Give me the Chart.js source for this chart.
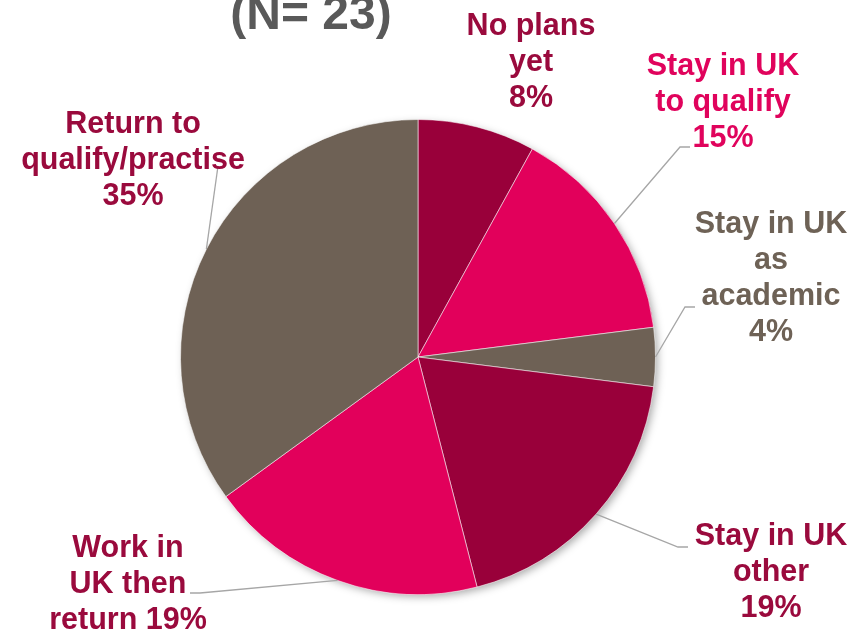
<!DOCTYPE html>
<html>
<head>
<meta charset="utf-8">
<script src="https://cdn.jsdelivr.net/npm/chart.js@4.4.1/dist/chart.umd.min.js"></script>
<style>
  html, body { margin: 0; padding: 0; background: #fff; }
  #wrap { width: 865px; height: 632px; }
</style>
</head>
<body>
<div id="wrap"><canvas id="plans" width="865" height="632"></canvas></div>
<script>
const title = '(N= 23)';
const categories = [
  'No plans yet',
  'Stay in UK to qualify',
  'Stay in UK as academic',
  'Stay in UK other',
  'Work in UK then return',
  'Return to qualify/practise'
];
const shares = [8, 15, 4, 19, 19, 35];
const sliceColors = ['#99003a', '#e2005b', '#6e6155', '#99003a', '#e2005b', '#6e6155'];
const labelColors = ['#9a0a3d', '#e0035c', '#6e6256', '#9a0a3d', '#9a0a3d', '#9a0a3d'];
// label text split into lines; {p} becomes the share
const labelLines = [
  ['No plans', 'yet', '{p}'],
  ['Stay in UK', 'to qualify', '{p}'],
  ['Stay in UK', 'as', 'academic', '{p}'],
  ['Stay in UK', 'other', '{p}'],
  ['Work in', 'UK then', 'return {p}'],
  ['Return to', 'qualify/practise', '{p}']
];

// label block placement: centre x, first baseline, and the bend points of the leader line
const labelSpots = [
  { x: 531, y: 35, bend: null },
  { x: 723, y: 75, bend: [[680, 147], [690, 147]] },
  { x: 771, y: 233, bend: [[685, 307], [695, 307]] },
  { x: 771, y: 545, bend: [[678, 547], [688, 547]] },
  { x: 128, y: 557, bend: [[200, 593], [190, 593]] },
  { x: 133, y: 133, bend: [[218, 166]] }
];

const LINE_GAP = 36;
const LABEL_FONT = 'bold 30.5px "Liberation Sans", Arial, sans-serif';

// soft drop shadow under the whole pie
const pieShadow = {
  id: 'pieShadow',
  beforeDatasetsDraw(chart) {
    const arc = chart.getDatasetMeta(0).data[0];
    if (!arc) return;
    const { x, y, outerRadius } = arc.getProps(['x', 'y', 'outerRadius'], true);
    const ctx = chart.ctx;
    ctx.save();
    ctx.shadowColor = 'rgba(0,0,0,0.35)';
    ctx.shadowBlur = 9;
    ctx.shadowOffsetX = 3;
    ctx.shadowOffsetY = 3;
    ctx.fillStyle = '#777';
    ctx.beginPath();
    ctx.arc(x, y, outerRadius - 1, 0, Math.PI * 2);
    ctx.fill();
    ctx.restore();
  }
};

// title, leader lines and the slice labels
const sliceLabels = {
  id: 'sliceLabels',
  afterDraw(chart) {
    const ctx = chart.ctx;
    const arcs = chart.getDatasetMeta(0).data;
    ctx.save();

    ctx.fillStyle = '#595959';
    ctx.font = 'bold 48px "Liberation Sans", Arial, sans-serif';
    ctx.textAlign = 'center';
    ctx.textBaseline = 'alphabetic';
    ctx.fillText(title, 311, 29);

    ctx.strokeStyle = '#a6a6a6';
    ctx.lineWidth = 1.3;
    arcs.forEach((arc, i) => {
      const spot = labelSpots[i];
      if (!spot.bend) return;
      const p = arc.getProps(['x', 'y', 'startAngle', 'endAngle', 'outerRadius'], true);
      const mid = (p.startAngle + p.endAngle) / 2;
      ctx.beginPath();
      ctx.moveTo(p.x + Math.cos(mid) * p.outerRadius, p.y + Math.sin(mid) * p.outerRadius);
      spot.bend.forEach(([bx, by]) => ctx.lineTo(bx, by));
      ctx.stroke();
    });

    ctx.font = LABEL_FONT;
    ctx.textAlign = 'center';
    labelLines.forEach((lines, i) => {
      const spot = labelSpots[i];
      ctx.fillStyle = labelColors[i];
      lines.forEach((line, k) => {
        ctx.fillText(line.replace('{p}', shares[i] + '%'), spot.x, spot.y + k * LINE_GAP);
      });
    });
    ctx.restore();
  }
};

new Chart(document.getElementById('plans'), {
  type: 'pie',
  data: {
    labels: categories,
    datasets: [{
      data: shares,
      backgroundColor: sliceColors,
      borderColor: 'rgba(255,255,255,0.55)',
      borderWidth: 1
    }]
  },
  options: {
    responsive: false,
    devicePixelRatio: 1,
    animation: false,
    layout: { padding: { left: 180, right: 209, top: 119, bottom: 37 } },
    plugins: {
      legend: { display: false },
      tooltip: { enabled: false }
    }
  },
  plugins: [pieShadow, sliceLabels]
});
</script>
</body>
</html>
